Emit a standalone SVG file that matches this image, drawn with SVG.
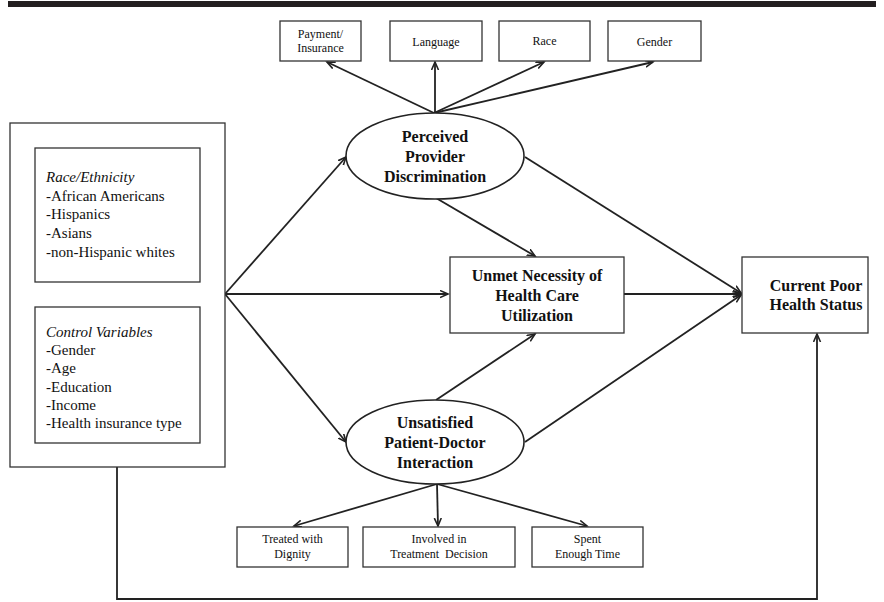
<svg xmlns="http://www.w3.org/2000/svg" width="884" height="602" viewBox="0 0 884 602">
<defs>
<marker id="ah" markerUnits="userSpaceOnUse" markerWidth="12" markerHeight="10" refX="8" refY="4" orient="auto">
<path d="M0,0.5 L8,4 L0,7.5" fill="none" stroke="#222" stroke-width="1.6"/>
</marker>
<style>
.box{fill:#fff;stroke:#333;stroke-width:1.3}
.ell{fill:#fff;stroke:#222;stroke-width:1.6}
.ln{fill:none;stroke:#222;stroke-width:1.8}
.arr{fill:none;stroke:#222;stroke-width:1.8;marker-end:url(#ah)}
.t{font-family:"Liberation Serif","Times New Roman",serif;fill:#111}
.b{font-weight:bold;font-size:16px;text-anchor:middle}
.s{font-size:12px;text-anchor:middle}
.l{font-size:15px}
</style>
</defs>
<rect x="0" y="0" width="884" height="602" fill="#fff"/>
<rect x="8" y="1" width="868" height="6" fill="#231f20"/>

<g id="connectors">
<line class="arr" x1="434" y1="113" x2="327" y2="62"/>
<line class="arr" x1="435" y1="113" x2="435" y2="62"/>
<line class="arr" x1="434" y1="113" x2="544" y2="62"/>
<line class="arr" x1="434" y1="113" x2="653" y2="62"/>
<line class="arr" x1="225" y1="294" x2="346" y2="157"/>
<line class="arr" x1="225" y1="294" x2="448" y2="294"/>
<line class="arr" x1="225" y1="294" x2="346" y2="442"/>
<line class="arr" x1="436" y1="198" x2="535" y2="256"/>
<line class="arr" x1="525" y1="157" x2="741" y2="293"/>
<line class="arr" x1="624" y1="294" x2="741" y2="294"/>
<line class="arr" x1="436" y1="400" x2="535" y2="334"/>
<line class="arr" x1="525" y1="442" x2="741" y2="295"/>
<line class="arr" x1="437" y1="484" x2="294" y2="526"/>
<line class="arr" x1="437" y1="484" x2="438" y2="526"/>
<line class="arr" x1="437" y1="484" x2="587" y2="526"/>
<polyline class="arr" points="117,467 117,599 817,599 817,334"/>
</g>

<g id="payment"><rect class="box" x="280" y="21" width="81" height="40"/>
<text class="t s" x="320.5" y="38">Payment/</text><text class="t s" x="320.5" y="52">Insurance</text></g>
<g id="language"><rect class="box" x="390" y="21" width="92" height="40"/>
<text class="t s" x="436" y="46">Language</text></g>
<g id="race"><rect class="box" x="499" y="21" width="91" height="40"/>
<text class="t s" x="544.5" y="45">Race</text></g>
<g id="gender"><rect class="box" x="608" y="21" width="93" height="40"/>
<text class="t s" x="654.5" y="46">Gender</text></g>

<g id="perceived"><ellipse class="ell" cx="435" cy="156" rx="89" ry="43"/>
<text class="t b" x="435" y="142">Perceived</text><text class="t b" x="435" y="162">Provider</text><text class="t b" x="435" y="182">Discrimination</text></g>

<g id="predictors"><rect class="box" x="10" y="123" width="215" height="344"/>
<rect class="box" x="35" y="148" width="165" height="134"/>
<text class="t l" x="46" y="182" font-style="italic">Race/Ethnicity</text>
<text class="t l" x="46" y="201">-African Americans</text>
<text class="t l" x="46" y="219">-Hispanics</text>
<text class="t l" x="46" y="238">-Asians</text>
<text class="t l" x="46" y="257">-non-Hispanic whites</text>
<rect class="box" x="35" y="307" width="165" height="136"/>
<text class="t l" x="46" y="337" font-style="italic">Control Variables</text>
<text class="t l" x="46" y="355">-Gender</text>
<text class="t l" x="46" y="373">-Age</text>
<text class="t l" x="46" y="392">-Education</text>
<text class="t l" x="46" y="410">-Income</text>
<text class="t l" x="46" y="428">-Health insurance type</text></g>

<g id="unmet"><rect class="box" x="450" y="257" width="174" height="76"/>
<text class="t b" x="537" y="281">Unmet Necessity of</text><text class="t b" x="537" y="301">Health Care</text><text class="t b" x="537" y="321">Utilization</text></g>

<g id="current"><rect class="box" x="742" y="257" width="126" height="76"/>
<text class="t b" x="816" y="291">Current Poor</text><text class="t b" x="816" y="310">Health Status</text></g>

<g id="unsatisfied"><ellipse class="ell" cx="435" cy="442" rx="89" ry="42"/>
<text class="t b" x="435" y="428">Unsatisfied</text><text class="t b" x="435" y="448">Patient-Doctor</text><text class="t b" x="435" y="468">Interaction</text></g>

<g id="treated"><rect class="box" x="237" y="527" width="111" height="40"/>
<text class="t s" x="292.5" y="543">Treated with</text><text class="t s" x="292.5" y="558">Dignity</text></g>
<g id="involved"><rect class="box" x="363" y="527" width="152" height="40"/>
<text class="t s" x="439" y="543">Involved in</text><text class="t s" x="439" y="558" xml:space="preserve">Treatment  Decision</text></g>
<g id="spent"><rect class="box" x="532" y="527" width="111" height="40"/>
<text class="t s" x="587.5" y="543">Spent</text><text class="t s" x="587.5" y="558">Enough Time</text></g>
</svg>
